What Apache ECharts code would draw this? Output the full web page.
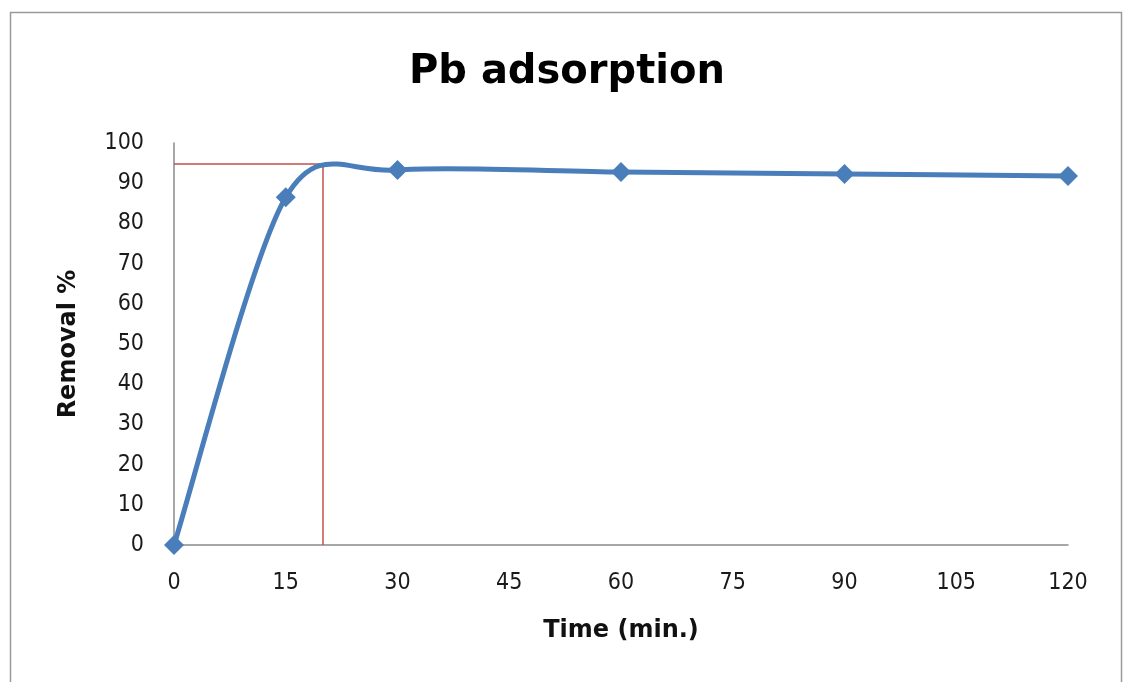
<!DOCTYPE html>
<html>
<head>
<meta charset="utf-8">
<script src="https://cdn.jsdelivr.net/npm/echarts@6/dist/echarts.min.js"></script>
<style>
  html, body { margin: 0; padding: 0; background: #ffffff; }
  #chart { width: 1127px; height: 682px; }
</style>
</head>
<body>
<div id="chart"></div>
<script>
// Contact time (min) and Pb removal (%)
const timeMin = [0, 15, 30, 60, 90, 120];
const removalPct = [0, 86.5, 93.3, 92.8, 92.3, 91.8];
// Equilibrium guide: time and removal level marked by the red lines
const eqTime = 20;
const eqRemoval = 94.8;
const xTicks = [0, 15, 30, 45, 60, 75, 90, 105, 120];
const yTicks = [0, 10, 20, 30, 40, 50, 60, 70, 80, 90, 100];

const lineColor = '#4a7ebb';
const chart = echarts.init(document.getElementById('chart'), null, { renderer: 'canvas' });

const tickFont = { fontFamily: 'DejaVu Sans Condensed, DejaVu Sans', fontSize: 23, color: '#1a1a1a' };
const nameFont = { fontFamily: 'DejaVu Sans', fontWeight: 'bold', fontSize: 24, color: '#111111' };

const points = timeMin.map((t, i) => [t, removalPct[i]]);

// Smoothed segment i -> i+1: cubic Bezier whose tangents follow the neighbouring points
const TENSION = 0.15;
function renderSegment(params, api) {
  const i = params.dataIndex;
  const n = points.length;
  if (i >= n - 1) return null;
  const px = k => api.coord(points[Math.max(0, Math.min(n - 1, k))]);
  const p0 = px(i - 1), p1 = px(i), p2 = px(i + 1), p3 = px(i + 2);
  return {
    type: 'bezierCurve',
    shape: {
      x1: p1[0], y1: p1[1],
      cpx1: p1[0] + (p2[0] - p0[0]) * TENSION, cpy1: p1[1] + (p2[1] - p0[1]) * TENSION,
      cpx2: p2[0] - (p3[0] - p1[0]) * TENSION, cpy2: p2[1] - (p3[1] - p1[1]) * TENSION,
      x2: p2[0], y2: p2[1]
    },
    style: { stroke: lineColor, lineWidth: 5, fill: null, lineCap: 'round' },
    silent: true
  };
}

chart.setOption({
  backgroundColor: '#ffffff',
  animation: false,
  title: {
    text: 'Pb adsorption',
    left: 404,
    top: 48,
    textStyle: { fontFamily: 'DejaVu Sans', fontWeight: 'bold', fontSize: 40, color: '#000000' }
  },
  graphic: [{
    type: 'rect',
    shape: { x: 10.5, y: 12.5, width: 1111, height: 700 },
    style: { fill: 'none', stroke: '#9a9a9a', lineWidth: 1.5 },
    silent: true
  }],
  grid: { left: 174, right: 59, top: 143, bottom: 137, containLabel: false },
  xAxis: {
    type: 'value',
    min: xTicks[0],
    max: xTicks[xTicks.length - 1],
    interval: 15,
    name: 'Time (min.)',
    nameLocation: 'middle',
    nameGap: 74,
    nameTextStyle: nameFont,
    axisLine: { show: true, onZero: false, lineStyle: { color: '#8a8a8a', width: 1.5 } },
    axisTick: { show: false },
    splitLine: { show: false },
    axisLabel: Object.assign({ margin: 27 }, tickFont)
  },
  yAxis: {
    type: 'value',
    min: yTicks[0],
    max: yTicks[yTicks.length - 1],
    interval: 10,
    name: 'Removal %',
    nameLocation: 'middle',
    nameGap: 93,
    nameRotate: 90,
    nameTextStyle: nameFont,
    axisLine: { show: true, lineStyle: { color: '#8a8a8a', width: 1.5 } },
    axisTick: { show: false },
    splitLine: { show: false },
    axisLabel: Object.assign({ margin: 30 }, tickFont)
  },
  series: [
    {
      name: 'Equilibrium',
      type: 'line',
      data: [[xTicks[0], eqRemoval], [eqTime, eqRemoval], [eqTime, yTicks[0]]],
      symbol: 'none',
      lineStyle: { color: '#c0504d', width: 1.5 },
      z: 1
    },
    {
      name: 'Removal curve',
      type: 'custom',
      renderItem: renderSegment,
      data: points,
      encode: { x: 0, y: 1 },
      clip: false,
      z: 2
    },
    {
      name: 'Removal %',
      type: 'scatter',
      data: points,
      symbol: 'diamond',
      symbolSize: 20,
      itemStyle: { color: lineColor, opacity: 1 },
      z: 3
    }
  ]
});
</script>
</body>
</html>
